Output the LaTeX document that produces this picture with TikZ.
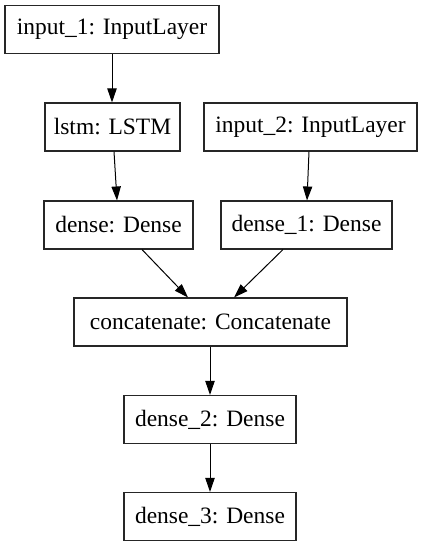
\documentclass[tikz,border=0pt]{standalone}
\usepackage{fontspec}
\setmainfont{Liberation Serif}
\usetikzlibrary{arrows.meta}
\tikzset{
  layer/.style={draw=black!85, line width=0.8pt, rectangle, minimum height=36pt, inner sep=0pt, font=\fontsize{17.6}{20}\selectfont},
  link/.style={draw=black, line width=0.75pt, -{Triangle[length=10.5pt, width=7pt]}}
}
\begin{document}
\begin{tikzpicture}[x=0.75pt,y=-0.75pt]
\useasboundingbox (0,0) rectangle (423,547);
\node[layer, minimum width=160.5pt] (in1) at (112,29.5) {input\_1: InputLayer};
\node[layer, minimum width=101.25pt] (lstm) at (112.5,127) {lstm: LSTM};
\node[layer, minimum width=159.75pt] (in2) at (310.5,127) {input\_2: InputLayer};
\node[layer, minimum width=111.75pt] (dense) at (118.5,225) {dense: Dense};
\node[layer, minimum width=128.25pt] (dense1) at (306.5,225) {dense\_1: Dense};
\node[layer, minimum width=204.75pt] (concat) at (210.5,322) {concatenate: Concatenate};
\node[layer, minimum width=129pt] (dense2) at (210,419.5) {dense\_2: Dense};
\node[layer, minimum width=129pt] (dense3) at (210,516.5) {dense\_3: Dense};
\draw[link] (in1.south) -- (lstm.north -| in1.south);
\draw[link] ([shift={(1.5,0)}]lstm.south) -- ([shift={(-1.5,0)}]dense.north);
\draw[link] ([shift={(-1.5,0)}]in2.south) -- ([shift={(0.5,0)}]dense1.north);
\draw[link] ([shift={(23.5,0)}]dense.south) -- ([shift={(-22.5,0)}]concat.north);
\draw[link] ([shift={(-23.5,0)}]dense1.south) -- ([shift={(23.5,0)}]concat.north);
\draw[link] ([shift={(-0.5,0)}]concat.south) -- (dense2.north);
\draw[link] (dense2.south) -- (dense3.north);
\end{tikzpicture}
\end{document}
